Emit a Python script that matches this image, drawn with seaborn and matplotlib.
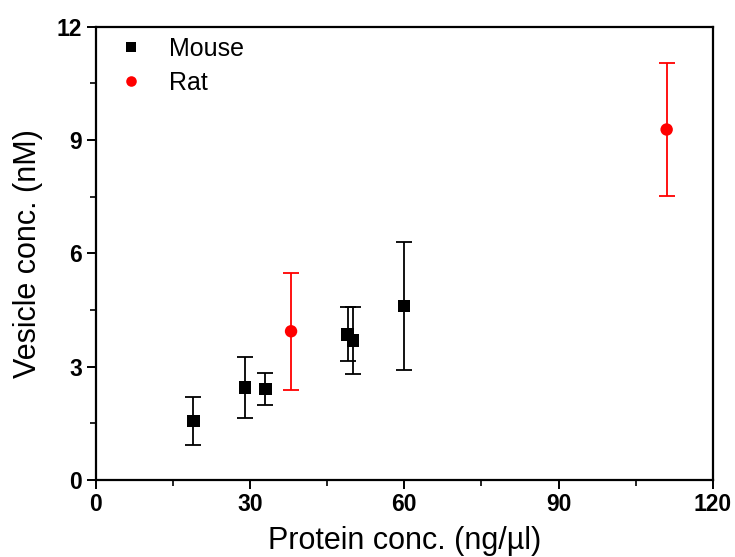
import numpy as np
import pandas as pd
import matplotlib
matplotlib.use("Agg")
import matplotlib.pyplot as plt
import seaborn as sns
from matplotlib.ticker import MultipleLocator

# data
mouse_x = [19, 29, 33, 49, 50, 60]
mouse_y = [1.56, 2.45, 2.41, 3.86, 3.70, 4.61]
mouse_err = [0.63, 0.81, 0.43, 0.71, 0.88, 1.70]

rat_x = [38, 111]
rat_y = [3.94, 9.28]
rat_err = [1.55, 1.75]

sns.set_style("ticks", {'text.color': 'black', 'axes.labelcolor': 'black',
                        'xtick.color': 'black', 'ytick.color': 'black'})
plt.rcParams['font.family'] = ['Liberation Sans', 'DejaVu Sans']

df = pd.DataFrame({
    'x': mouse_x + rat_x,
    'y': mouse_y + rat_y,
    'err': mouse_err + rat_err,
    'species': ['Mouse'] * len(mouse_x) + ['Rat'] * len(rat_x),
})
palette = {'Mouse': 'black', 'Rat': '#ff0000'}
markers = {'Mouse': 's', 'Rat': 'o'}

fig = plt.figure(figsize=(7.35, 5.57), dpi=100)
ax = fig.add_axes([0.130, 0.138, 0.840, 0.814])

for sp, g in df.groupby('species'):
    ax.errorbar(g['x'], g['y'], yerr=g['err'], fmt='none', ecolor=palette[sp],
                elinewidth=1.3, capsize=5.5, capthick=1.3, zorder=2)

sns.scatterplot(data=df, x='x', y='y', hue='species', style='species',
                palette=palette, markers=markers, s=80,
                edgecolor='none', linewidth=0, ax=ax, zorder=3)

ax.set_xlim(0, 120)
ax.set_ylim(0, 12)
ax.xaxis.set_major_locator(MultipleLocator(30))
ax.xaxis.set_minor_locator(MultipleLocator(15))
ax.yaxis.set_major_locator(MultipleLocator(3))
ax.yaxis.set_minor_locator(MultipleLocator(1.5))

for s in ax.spines.values():
    s.set_visible(True)
    s.set_linewidth(1.6)
    s.set_color('black')

ax.tick_params(which='major', direction='out', length=6.5, width=1.4,
               labelsize=16.5, pad=3, colors='black')
ax.tick_params(which='minor', direction='out', length=4, width=1.2, colors='black')
for lab in ax.get_xticklabels() + ax.get_yticklabels():
    lab.set_fontweight('bold')

ax.set_xlabel('Protein conc. (ng/µl)', fontsize=22, labelpad=7, color='black')
ax.set_ylabel('Vesicle conc. (nM)', fontsize=22, labelpad=10, color='black')

leg = ax.legend(loc='upper left', frameon=False, fontsize=18, title=None,
                handletextpad=0.55, borderaxespad=0.0, labelspacing=0.4,
                markerscale=0.85, borderpad=0.4)
for t in leg.get_texts():
    t.set_color('black')

fig.savefig('out.png', dpi=100)
